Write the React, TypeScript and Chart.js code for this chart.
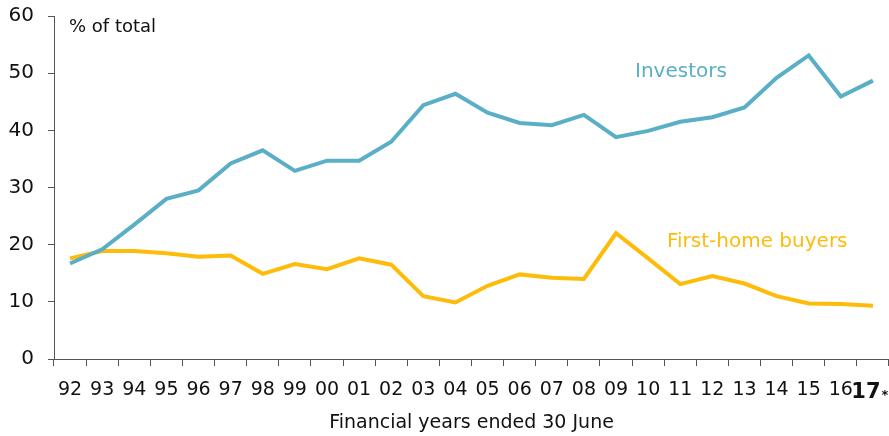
import React, { useEffect, useRef } from "react";
import { Chart, registerables } from "chart.js";

Chart.register(...registerables);

const years = ["92","93","94","95","96","97","98","99","00","01","02","03","04","05","06","07","08","09","10","11","12","13","14","15","16","17*"];
const investors = [16.7,19.2,23.5,28.0,29.5,34.2,36.5,32.9,34.7,34.7,38.0,44.4,46.4,43.1,41.3,40.9,42.7,38.8,39.9,41.5,42.3,44.0,49.2,53.1,45.9,48.7];
const firstHome = [17.6,18.9,18.9,18.5,17.9,18.1,14.9,16.6,15.7,17.6,16.5,11.0,9.9,12.8,14.8,14.2,14.0,22.0,17.6,13.1,14.5,13.2,11.0,9.7,9.6,9.3];
const yTicks = [0,10,20,30,40,50,60];

const BLUE = "#5aafc6";
const GOLD = "#fdbb0a";
const FONT = "DejaVu Sans";
const LAST = years.length - 1;

export default function App() {
  const ref = useRef<HTMLCanvasElement>(null);
  useEffect(() => {
    document.body.style.margin = "0";
    const labelsPlugin = {
      id: "labels",
      afterDraw(chart: any) {
        const c = chart.ctx;
        const xs = chart.scales.x;
        c.save();
        c.textBaseline = "middle";
        c.textAlign = "left";
        c.fillStyle = "#111";
        c.font = `18px ${FONT}`;
        c.fillText("% of total", 69, 27);
        c.fillStyle = BLUE;
        c.font = `20px ${FONT}`;
        c.fillText("Investors", 635, 72);
        c.fillStyle = GOLD;
        c.fillText("First-home buyers", 667, 242);
        // last category label: larger bold year plus small asterisk
        const lbl = years[LAST];
        const main = lbl.replace("*", "");
        const star = lbl.slice(main.length);
        const cx = xs.getPixelForValue(LAST) - 7;
        c.fillStyle = "#111";
        c.font = `bold 21px ${FONT}`;
        c.textAlign = "center";
        c.fillText(main, cx, 393);
        const w = c.measureText(main).width;
        c.textAlign = "left";
        c.font = `bold 13px ${FONT}`;
        c.fillText(star, cx + w / 2 + 1, 396);
        c.restore();
      },
    };
    const chart = new Chart(ref.current!, {
      type: "line",
      data: {
        labels: years,
        datasets: [
          { label: "Investors", data: investors, borderColor: BLUE, borderWidth: 4, pointRadius: 0, tension: 0 },
          { label: "First-home buyers", data: firstHome, borderColor: GOLD, borderWidth: 4, pointRadius: 0, tension: 0 },
        ],
      },
      options: {
        animation: false,
        responsive: false,
        layout: { padding: { top: 16, left: 0, right: 0, bottom: 0 } },
        plugins: { legend: { display: false }, tooltip: { enabled: false } },
        scales: {
          x: {
            offset: true,
            grid: { offset: true, drawOnChartArea: false, drawTicks: true, tickLength: 7, color: "#555" },
            border: { color: "#555", width: 1 },
            ticks: {
              color: "#111",
              padding: 13,
              maxRotation: 0,
              autoSkip: false,
              font: { family: FONT, size: 19 },
              callback: (_v: any, i: number) => (i === LAST ? "" : years[i]),
            },
            title: { display: true, text: "Financial years ended 30 June", color: "#111", font: { family: FONT, size: 19 }, padding: { top: 6, bottom: 2 } },
            afterFit: (s: any) => { s.height = 77; s.paddingLeft = 0; s.paddingRight = 0; },
          },
          y: {
            min: 0,
            max: 60,
            afterBuildTicks: (s: any) => { s.ticks = yTicks.map((v) => ({ value: v })); },
            grid: { drawOnChartArea: false, drawTicks: true, tickLength: 6, color: "#555" },
            border: { color: "#555", width: 1 },
            ticks: { color: "#111", padding: 14, font: { family: FONT, size: 20 } },
            afterFit: (s: any) => { s.width = 54; s.paddingTop = 0; s.paddingBottom = 0; },
          },
        },
      },
      plugins: [labelsPlugin],
    });
    return () => chart.destroy();
  }, []);
  return (
    <div style={{ position: "absolute", left: 0, top: 0, width: 889, height: 436 }}>
      <canvas ref={ref} width={889} height={436} style={{ width: 889, height: 436 }} />
    </div>
  );
}
